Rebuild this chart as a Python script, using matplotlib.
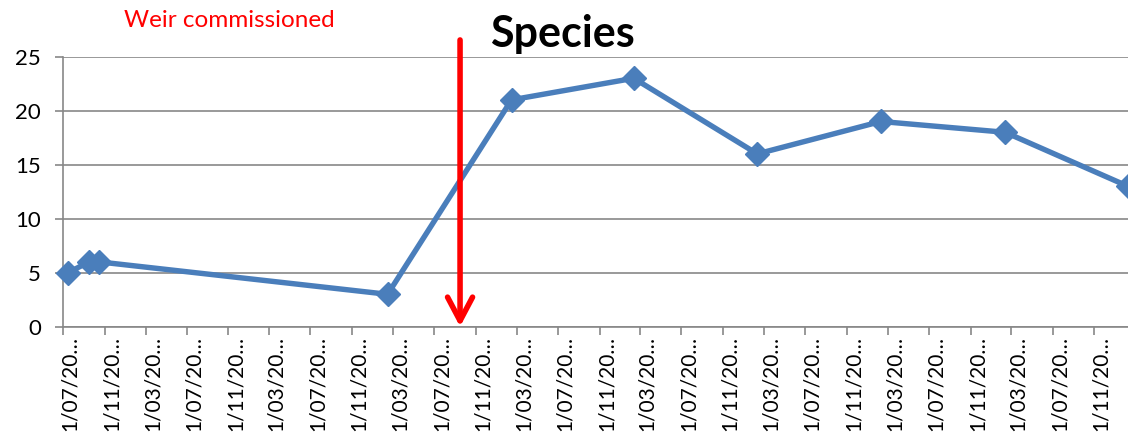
import pandas as pd
import matplotlib
matplotlib.use('Agg')
import matplotlib.pyplot as plt
import matplotlib.dates as mdates
from matplotlib.transforms import ScaledTranslation

plt.rcParams['font.family'] = ['Lato', 'DejaVu Sans']

# survey dates and species counts
sample_dates = ['2005-07-15', '2005-09-15', '2005-10-15', '2008-02-14', '2009-02-14',
                '2010-02-10', '2011-02-10', '2012-02-10', '2013-02-11', '2014-02-09']
species = [5, 6, 6, 3, 21, 23, 16, 19, 18, 13]
axis_start = '2005-07-01'
weir_date = '2008-09-15'
y_ticks = [0, 5, 10, 15, 20, 25]

dates = pd.to_datetime(sample_dates)
grid_col = '#878787'

fig = plt.figure(figsize=(11.28, 4.36), dpi=100)
ax = fig.add_axes([0.0561, 0.2507, 0.9439, 0.6193])

ax.plot(dates, species, '-D', color='#4a7ebb', lw=3.9, markersize=12.5, clip_on=False, zorder=5)

ax.set_xlim(pd.Timestamp(axis_start), dates[-1])
ax.set_ylim(0, 25)
ax.set_yticks(y_ticks)
ax.yaxis.grid(True, color=grid_col, lw=1.2)
ax.set_axisbelow(True)

ax.xaxis.set_major_locator(mdates.MonthLocator(bymonth=[3, 7, 11]))
ax.xaxis.set_major_formatter(plt.FuncFormatter(
    lambda v, pos: f"{mdates.num2date(v).day}/{mdates.num2date(v).month:02d}/20\u2026"))
ax.tick_params(axis='x', rotation=90, labelsize=15, length=6, width=1.2, color=grid_col, pad=1)
ax.tick_params(axis='y', labelsize=16, length=6, width=1.2, color=grid_col, pad=10)
for lab in ax.get_xticklabels():
    lab.set_transform(lab.get_transform() + ScaledTranslation(5 / 72, 0, fig.dpi_scale_trans))

for side in ['top', 'right']:
    ax.spines[side].set_visible(False)
for side in ['left', 'bottom']:
    ax.spines[side].set_color(grid_col)
    ax.spines[side].set_linewidth(1.2)

# weir commissioning arrow
ax.annotate('', xy=(pd.Timestamp(weir_date), 0), xytext=(pd.Timestamp(weir_date), 26.55),
            arrowprops=dict(arrowstyle='->,head_length=1.7,head_width=0.9', color='red',
                            lw=4, shrinkA=0, shrinkB=0, mutation_scale=10),
            annotation_clip=False, zorder=6)

fig.text(0.11, 0.954, 'Weir commissioned', color='red', fontsize=17.5, va='center', ha='left')
fig.text(0.499, 1 - 47 / 436, 'Species', fontsize=31, fontweight='bold', ha='center', va='baseline')

fig.savefig('out.png', dpi=100)
